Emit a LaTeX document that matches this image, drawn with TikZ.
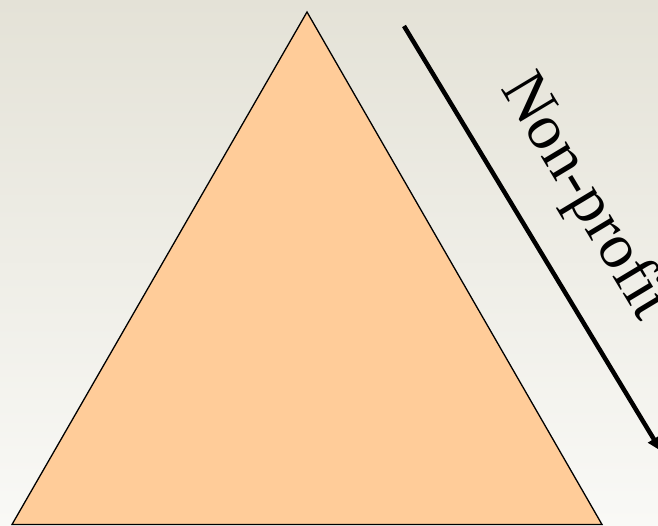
\documentclass[tikz,border=0pt]{standalone}
\usepackage{fontspec}
\setmainfont{Liberation Serif}
\usetikzlibrary{arrows.meta}
\definecolor{bgtop}{RGB}{228,226,215}
\definecolor{bgbot}{RGB}{249,249,246}
\definecolor{tri}{RGB}{255,204,153}
\tikzset{
  pyramid/.style={fill=tri,draw=black,line width=1.3pt,line join=miter},
  flowarrow/.style={draw=black,line width=4.5pt,-{Triangle[length=14pt,width=13pt]}},
  arrowlabel/.style={font=\fontsize{64}{64}\selectfont,inner sep=0pt,rotate=-59,anchor=base west}
}
\begin{document}
\begin{tikzpicture}[x=1pt,y=-1pt]
\useasboundingbox (0,0) rectangle (658,525);
\shade[top color=bgtop,bottom color=bgbot] (0,0) rectangle (658,525);
\coordinate (apex) at (307,12);
\coordinate (bl) at (12,524.5);
\coordinate (br) at (602,524.5);
\path[pyramid] (apex) -- (br) -- (bl) -- cycle;
\coordinate (astart) at (404,26);
\coordinate (aend) at (661,451);
\draw[flowarrow] (astart) -- (aend);
\node[arrowlabel] (lbl) at (500,88) {Non-profit};
\end{tikzpicture}
\end{document}
